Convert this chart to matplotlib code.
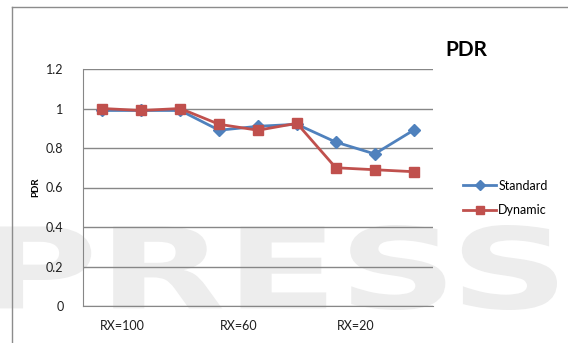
import matplotlib
matplotlib.use("Agg")
import matplotlib.pyplot as plt
from matplotlib.lines import Line2D
from matplotlib.patches import Arc, PathPatch
from matplotlib.textpath import TextPath
from matplotlib.font_manager import FontProperties
from matplotlib.transforms import Affine2D

categories = ["1", "2", "3", "4", "5", "6", "7", "8", "9"]
tick_labels = ["RX=100", "RX=60", "RX=20"]
standard = [0.99, 0.99, 0.99, 0.89, 0.91, 0.92, 0.83, 0.77, 0.89]
dynamic = [1.00, 0.99, 1.00, 0.92, 0.89, 0.925, 0.70, 0.69, 0.68]
y_ticks = [0, 0.2, 0.4, 0.6, 0.8, 1.0, 1.2]
y_tick_labels = ["0", "0.2", "0.4", "0.6", "0.8", "1", "1.2"]

plt.rcParams["font.family"] = ["Lato", "DejaVu Sans"]

W, H = 568, 343
fig = plt.figure(figsize=(W / 100, H / 100), dpi=100)

# faint background watermark, drawn in pixel coordinates behind the chart
wm = "#ededed"
bg = fig.add_axes([0, 0, 1, 1], zorder=-1)
bg.set_xlim(0, W)
bg.set_ylim(H, 0)
bg.axis("off")
tp = TextPath((0, 0), "PRESS", size=100,
              prop=FontProperties(family="DejaVu Sans", weight="bold"))
ext = tp.get_extents()
sx = 565 / ext.width
sy = 85 / ext.height
tr = Affine2D().translate(-ext.x0, -ext.y0).scale(sx, -sy).translate(-8, 310)
bg.add_patch(PathPatch(tr.transform_path(tp), facecolor=wm, edgecolor="none"))
bg.add_patch(Arc((300, 340), 640, 300, theta1=95, theta2=170, color=wm, lw=7))

# outer chart frame
fig.add_artist(Line2D([12 / W, 12 / W], [0, 1 - 7 / H], color="#8c8c8c", lw=1))
fig.add_artist(Line2D([12 / W, 1], [1 - 7 / H, 1 - 7 / H], color="#8c8c8c", lw=1))

ax = fig.add_axes([83 / W, 37 / H, 350 / W, 237 / H])
ax.patch.set_alpha(0)
x = list(range(len(categories)))

ax.plot(x, standard, color="#4F81BD", lw=2.0, marker="D", ms=6,
        markerfacecolor="#4F81BD", markeredgecolor="#4F81BD", label="Standard", zorder=3)
ax.plot(x, dynamic, color="#C0504D", lw=2.0, marker="s", ms=7.5,
        markerfacecolor="#C0504D", markeredgecolor="#C0504D", label="Dynamic", zorder=4)

ax.set_xlim(-0.5, len(categories) - 0.5)
ax.set_ylim(0, 1.2)
ax.set_yticks(y_ticks)
ax.set_yticklabels(y_tick_labels)
ax.set_xticks([0.5, 3.5, 6.5])
ax.set_xticklabels(tick_labels)
ax.tick_params(axis="both", length=0, labelsize=9, colors="#1f1f1f")
ax.tick_params(axis="y", pad=14)
ax.tick_params(axis="x", pad=10)

ax.grid(axis="y", color="#878787", lw=1)
ax.set_axisbelow(True)
for s in ["top", "right"]:
    ax.spines[s].set_visible(False)
ax.spines["left"].set_color("#878787")
ax.spines["bottom"].set_color("#878787")

ax.set_ylabel("PDR", fontsize=7, fontweight="bold", labelpad=4)

fig.text(466 / W, 1 - 50 / H, "PDR", fontsize=15, fontweight="bold",
         ha="center", va="center", color="#000000")

ax.legend(loc="center left", bbox_to_anchor=(452 / W, 1 - 198 / H),
          bbox_transform=fig.transFigure, frameon=False, fontsize=9,
          handlelength=2.6, handletextpad=0.2, labelspacing=1.0,
          markerscale=0.8)

fig.savefig("out.png", dpi=100)
